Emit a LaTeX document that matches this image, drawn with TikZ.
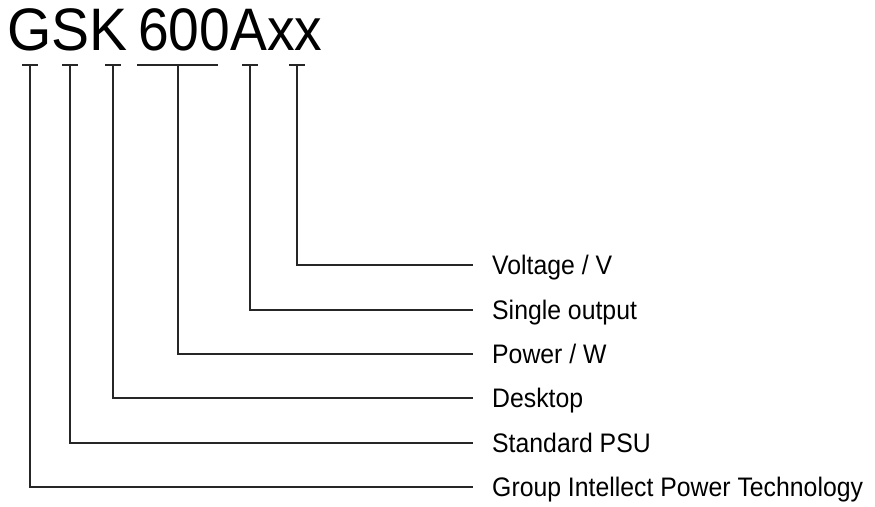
\documentclass[tikz,border=0pt]{standalone}
\usepackage{fontspec}
\setmainfont{Liberation Sans}
\usetikzlibrary{positioning, calc}
\tikzset{
  title/.style = {anchor=base west, inner sep=0pt, font=\fontsize{60}{62}\selectfont},
  lbl/.style = {anchor=west, inner sep=0pt, text height=17.5pt, text depth=0pt, yscale=1.08, font=\fontsize{24.8}{28}\selectfont},
  lead/.style = {line width=2pt, draw=black!85}
}

\begin{document}
\begin{tikzpicture}[x=1pt, y=-1pt]
    \useasboundingbox (0,0) rectangle (875,506);

    % part number
    \node[title, xscale=0.95] (gsk) at (7,50) {GSK};
    \node[title, xscale=0.92] (code) at (138,50) {600Axx};

    % meanings
    \node[lbl] (volt)    at (492,265) {Voltage / V};
    \node[lbl] (single)  at (492,310) {Single output};
    \node[lbl] (power)   at (492,354) {Power / W};
    \node[lbl] (desk)    at (492,398) {Desktop};
    \node[lbl] (psu)     at (492,443) {Standard PSU};
    \node[lbl] (group)   at (492,487) {Group Intellect Power Technology};

    % tick marks under the letters
    \coordinate (t-g)     at (30,65);
    \coordinate (t-s)     at (70,65);
    \coordinate (t-k)     at (113,65);
    \coordinate (t-600)   at (178,65);
    \coordinate (t-a)     at (250,65);
    \coordinate (t-xx)    at (297,65);

    \draw[lead] ([xshift=-8pt]t-g) -- ([xshift=8pt]t-g);
    \draw[lead] ([xshift=-8pt]t-s) -- ([xshift=8pt]t-s);
    \draw[lead] ([xshift=-8pt]t-k) -- ([xshift=8pt]t-k);
    \draw[lead] ([xshift=-41pt]t-600) -- ([xshift=40pt]t-600);
    \draw[lead] ([xshift=-8pt]t-a) -- ([xshift=8pt]t-a);
    \draw[lead] ([xshift=-8pt]t-xx) -- ([xshift=8pt]t-xx);

    % leaders
    \draw[lead] (t-xx)  |- ([xshift=-19pt]volt.west);
    \draw[lead] (t-a)   |- ([xshift=-19pt]single.west);
    \draw[lead] (t-600) |- ([xshift=-19pt]power.west);
    \draw[lead] (t-k)   |- ([xshift=-19pt]desk.west);
    \draw[lead] (t-s)   |- ([xshift=-19pt]psu.west);
    \draw[lead] (t-g)   |- ([xshift=-19pt]group.west);

\end{tikzpicture}
\end{document}
